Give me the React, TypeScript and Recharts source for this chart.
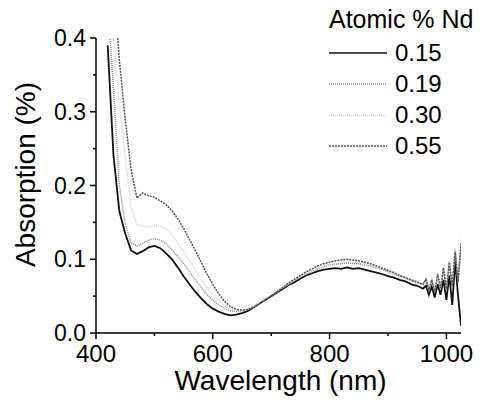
import { LineChart, Line, XAxis, YAxis, Legend } from 'recharts';

// wavelength grid (nm)
const wavelengths = [
  420, 430, 440, 450, 460, 470, 480, 490, 500, 510, 520, 530, 540, 550, 560, 570, 580, 590, 600,
  610, 620, 630, 640, 650, 660, 670, 680, 690, 700, 710, 720, 730, 740, 750, 760, 770, 780, 790,
  800, 810, 820, 830, 840, 850, 860, 870, 880, 890, 900, 910, 920, 930, 940, 950, 960, 965, 970,
  975, 980, 985, 990, 995, 1000, 1005, 1010, 1015, 1020, 1025,
];

// absorption (%) per Nd content
const nd015 = [
  0.39, 0.24, 0.165, 0.135, 0.112, 0.107, 0.111, 0.116, 0.118, 0.115, 0.108, 0.1, 0.089, 0.077,
  0.066, 0.056, 0.047, 0.039, 0.033, 0.029, 0.026, 0.024, 0.025, 0.027, 0.03, 0.035, 0.04, 0.045,
  0.05, 0.055, 0.06, 0.065, 0.069, 0.074, 0.078, 0.081, 0.084, 0.086, 0.087, 0.088, 0.087, 0.089,
  0.087, 0.088, 0.086, 0.084, 0.082, 0.08, 0.077, 0.075, 0.072, 0.07, 0.066, 0.064, 0.06, 0.064,
  0.052, 0.063, 0.048, 0.066, 0.052, 0.072, 0.045, 0.078, 0.038, 0.098, 0.05, 0.01,
];
const nd019 = [
  0.45, 0.33, 0.2, 0.148, 0.122, 0.118, 0.122, 0.126, 0.128, 0.126, 0.121, 0.113, 0.104, 0.094,
  0.083, 0.072, 0.062, 0.052, 0.044, 0.038, 0.033, 0.03, 0.029, 0.03, 0.032, 0.036, 0.041, 0.046,
  0.051, 0.056, 0.061, 0.066, 0.071, 0.076, 0.08, 0.084, 0.087, 0.09, 0.092, 0.093, 0.094, 0.095,
  0.094, 0.094, 0.092, 0.091, 0.088, 0.086, 0.083, 0.08, 0.077, 0.074, 0.071, 0.068, 0.066, 0.072,
  0.058, 0.071, 0.056, 0.079, 0.06, 0.085, 0.058, 0.093, 0.062, 0.112, 0.068, 0.118,
];
const nd030 = [
  0.5, 0.4, 0.31, 0.24, 0.17, 0.147, 0.145, 0.144, 0.146, 0.145, 0.141, 0.133, 0.122, 0.11, 0.098,
  0.086, 0.073, 0.062, 0.052, 0.044, 0.037, 0.032, 0.03, 0.03, 0.032, 0.036, 0.041, 0.046, 0.051,
  0.056, 0.062, 0.067, 0.072, 0.077, 0.081, 0.085, 0.088, 0.091, 0.093, 0.094, 0.095, 0.096,
  0.096, 0.095, 0.094, 0.092, 0.09, 0.087, 0.084, 0.081, 0.078, 0.075, 0.072, 0.069, 0.067, 0.074,
  0.06, 0.073, 0.058, 0.082, 0.063, 0.09, 0.062, 0.098, 0.066, 0.115, 0.072, 0.128,
];
const nd055 = [
  0.55, 0.48, 0.37, 0.29, 0.222, 0.183, 0.19, 0.186, 0.184, 0.179, 0.174, 0.166, 0.155, 0.142,
  0.127, 0.112, 0.096, 0.08, 0.066, 0.053, 0.043, 0.036, 0.032, 0.031, 0.032, 0.035, 0.04, 0.045,
  0.05, 0.056, 0.062, 0.068, 0.073, 0.078, 0.083, 0.087, 0.091, 0.094, 0.096, 0.098, 0.099, 0.1,
  0.099, 0.098, 0.096, 0.094, 0.091, 0.088, 0.085, 0.082, 0.078, 0.075, 0.072, 0.069, 0.066, 0.073,
  0.059, 0.072, 0.055, 0.08, 0.061, 0.088, 0.06, 0.096, 0.064, 0.11, 0.07, 0.122,
];

const seriesNames = ['0.15', '0.19', '0.30', '0.55'];
const seriesKeys = ['nd015', 'nd019', 'nd030', 'nd055'];
const seriesColors = ['#111111', '#8a8a8a', '#d4d4d4', '#555555'];
const seriesDash = [undefined, '1 1', '1 1', '2 1'];

const xTicks = [400, 500, 600, 700, 800, 900, 1000];
const yTicks = [0, 0.05, 0.1, 0.15, 0.2, 0.25, 0.3, 0.35, 0.4];

const data = wavelengths.map((wl, i) => ({
  wl,
  nd015: nd015[i],
  nd019: nd019[i],
  nd030: nd030[i],
  nd055: nd055[i],
}));

const YTick = (props: any) => {
  const { x, y, payload } = props;
  const major = Math.abs(payload.value * 10 - Math.round(payload.value * 10)) < 1e-6;
  return (
    <g>
      <line x1={x - (major ? 6 : 3)} x2={x} y1={y} y2={y} stroke="#000" strokeWidth={1.5} />
      {major && (
        <text x={x - 10} y={y + 8} textAnchor="end" fontSize={23} fill="#000">
          {payload.value.toFixed(1)}
        </text>
      )}
    </g>
  );
};

const XTick = (props: any) => {
  const { x, y, payload } = props;
  const major = payload.value % 200 === 0;
  return (
    <g>
      <line x1={x} x2={x} y1={y} y2={y + (major ? 6 : 3)} stroke="#000" strokeWidth={1.5} />
      {major && (
        <text x={x} y={y + 29} textAnchor="middle" fontSize={24} fill="#000">
          {payload.value}
        </text>
      )}
    </g>
  );
};

const NdLegend = () => (
  <svg width={160} height={165}>
    <text x={4} y={28} fontSize={25} fill="#000">Atomic % Nd</text>
    {seriesNames.map((name, i) => (
      <g key={name}>
        <line
          x1={4}
          x2={62}
          y1={53 + i * 31}
          y2={53 + i * 31}
          stroke={seriesColors[i]}
          strokeDasharray={seriesDash[i]}
          strokeWidth={1.5}
        />
        <text x={70} y={61 + i * 31} fontSize={24} fill="#000">{name}</text>
      </g>
    ))}
  </svg>
);

export default function App() {
  return (
    <div
      style={{
        position: 'absolute',
        left: 0,
        top: 0,
        width: 483,
        height: 409,
        background: '#fff',
        fontFamily: '"Liberation Sans", Arial, sans-serif',
      }}
    >
      <LineChart width={483} height={409} data={data} margin={{ top: 38, right: 22, left: 0, bottom: 0 }}>
        <XAxis
          type="number"
          dataKey="wl"
          domain={[400, 1025]}
          ticks={xTicks}
          interval={0}
          allowDataOverflow
          height={76}
          tickSize={0}
          tickMargin={0}
          tickLine={false}
          tick={<XTick />}
          axisLine={{ stroke: '#000', strokeWidth: 1.5 }}
          label={({ viewBox }: any) => (
            <text x={viewBox.x + viewBox.width / 2 + 2} y={viewBox.y + 57} textAnchor="middle" fontSize={28} fill="#000">
              Wavelength (nm)
            </text>
          )}
        />
        <YAxis
          type="number"
          domain={[0, 0.4]}
          ticks={yTicks}
          interval={0}
          allowDataOverflow
          width={96}
          tickSize={0}
          tickMargin={0}
          tickLine={false}
          tick={<YTick />}
          axisLine={{ stroke: '#000', strokeWidth: 1.5 }}
          label={({ viewBox }: any) => (
            <text
              transform={`translate(35, ${viewBox.y + viewBox.height / 2 - 11}) rotate(-90)`}
              textAnchor="middle"
              fontSize={28}
              fill="#000"
            >
              Absorption (%)
            </text>
          )}
        />
        <Legend
          layout="horizontal"
          verticalAlign="middle"
          align="center"
          content={<NdLegend />}
          wrapperStyle={{ left: 325, top: 0, width: 160 }}
        />
        {seriesKeys.map((key, i) => (
          <Line
            key={key}
            dataKey={key}
            name={seriesNames[i]}
            type="linear"
            stroke={seriesColors[i]}
            strokeDasharray={seriesDash[i]}
            strokeWidth={i === 0 ? 1.8 : 1.5}
            dot={false}
            isAnimationActive={false}
          />
        ))}
      </LineChart>
    </div>
  );
}
